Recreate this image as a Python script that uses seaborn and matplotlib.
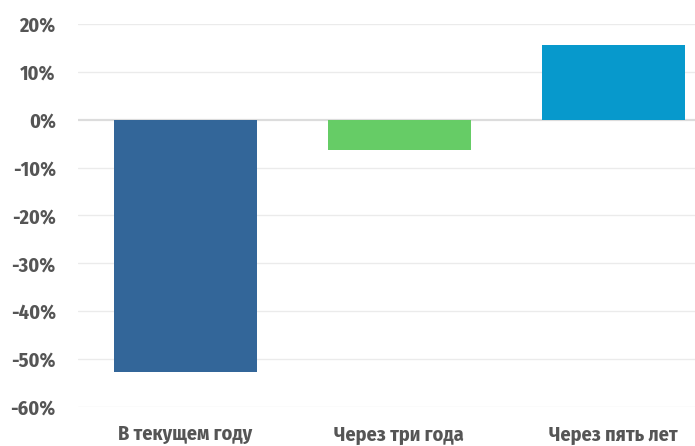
import matplotlib
matplotlib.use("Agg")
import matplotlib.pyplot as plt
from matplotlib import font_manager as fm
from matplotlib.ft2font import FT2Font
import seaborn as sns
import pandas as pd

categories = ["В текущем году", "Через три года", "Через пять лет"]
values = [-52.7, -6.3, 15.6]
colors = ["#336699", "#66CC66", "#0799CC"]
yticks = [-60, -50, -40, -30, -20, -10, 0, 10, 20]

sns.set_style("white")

need = set(ord(c) for c in "".join(categories) + "0123456789-%")


def covers(fname):
    try:
        cm = FT2Font(fname).get_charmap()
    except Exception:
        return False
    return need.issubset(set(cm.keys()))


cands = []
for f in fm.fontManager.ttflist:
    n = (f.fname + " " + f.name).lower()
    if "oblique" in n or "italic" in n:
        continue
    if ("condensed" in n or "narrow" in n) and (f.weight in ("bold", 700) or "bold" in n):
        if covers(f.fname):
            cands.append(f)
cands.sort(key=lambda f: ("semi" in f.fname.lower(), "dejavu" in f.fname.lower()))
if cands:
    fp = fm.FontProperties(fname=cands[0].fname, size=14.5)
else:
    fp = fm.FontProperties(family=["DejaVu Sans"], weight="bold", stretch="condensed", size=12)

df = pd.DataFrame({"cat": categories, "val": values})
fig = plt.figure(figsize=(6.95, 4.46), dpi=100)
ax = fig.add_axes([78/695, 1 - 407/446, 1 - 78/695, (407 - 24)/446])
sns.barplot(data=df, x="cat", y="val", hue="cat", palette=colors, width=0.668,
            legend=False, ax=ax, saturation=1, edgecolor="none", zorder=3)
ax.set_xlim(-0.5, 2.38)
ax.set_ylim(-60, 20)
ax.set_yticks(yticks)
ax.set_yticklabels([f"{t}%" for t in yticks])
for t in yticks:
    ax.axhline(t, color="#dcdcdc" if t == 0 else "#ebebeb", lw=1.6 if t == 0 else 1, zorder=1)
for s in ax.spines.values():
    s.set_visible(False)
ax.set_xlabel("")
ax.set_ylabel("")
ax.tick_params(axis="both", length=0, labelcolor="#555555")
ax.tick_params(axis="y", pad=16)
ax.tick_params(axis="x", pad=13)
for lbl in ax.get_xticklabels() + ax.get_yticklabels():
    lbl.set_fontproperties(fp)
fig.savefig("out.png", dpi=100)
